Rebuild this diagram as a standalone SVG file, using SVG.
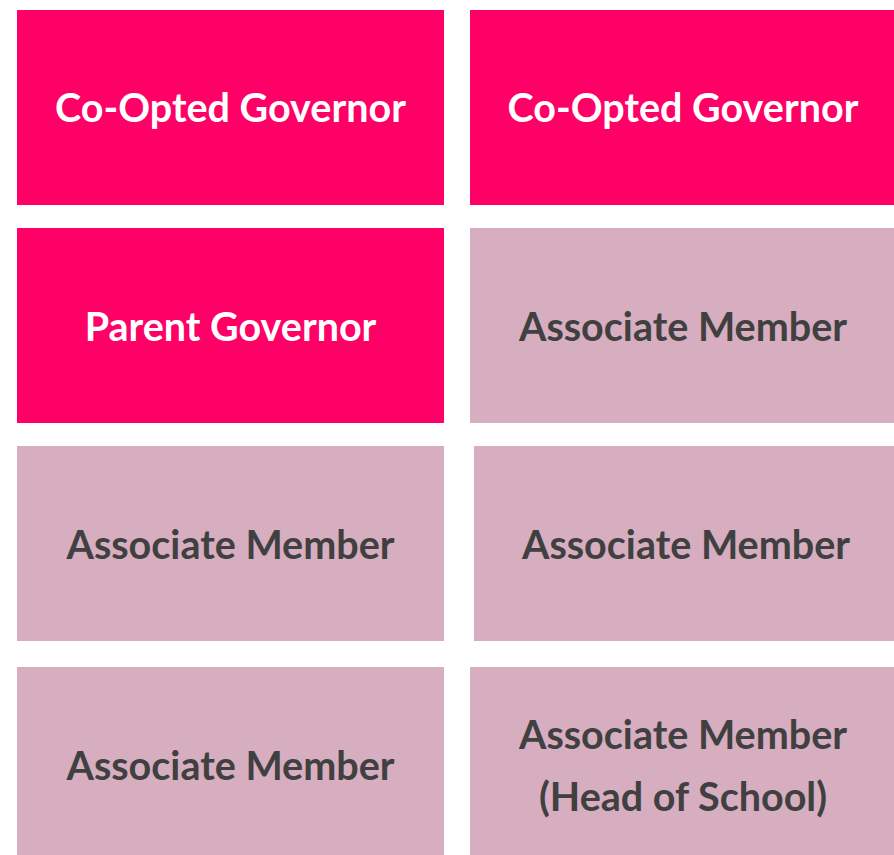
<svg xmlns="http://www.w3.org/2000/svg" width="894" height="855" viewBox="0 0 894 855">
<style>
.hot{fill:#FF0066}
.mauve{fill:#D7ADC0}
text{font-family:Lato,"Open Sans","Liberation Sans",sans-serif;font-weight:bold;font-size:39.5px;text-anchor:middle}
.w{fill:#FFFFFF}
.d{fill:#404040}
</style>
<rect width="894" height="855" fill="#FFFFFF"/>
<g id="node1"><rect class="hot" x="17" y="10" width="427" height="195"/><text class="w" x="230.5" y="122">Co-Opted Governor</text></g>
<g id="node2"><rect class="hot" x="470" y="10" width="424" height="195"/><text class="w" x="683" y="122">Co-Opted Governor</text></g>
<g id="node3"><rect class="hot" x="17" y="228" width="427" height="195"/><text class="w" x="230.5" y="341">Parent Governor</text></g>
<g id="node4"><rect class="mauve" x="470" y="228" width="424" height="195"/><text class="d" x="683" y="341">Associate Member</text></g>
<g id="node5"><rect class="mauve" x="17" y="446" width="427" height="195"/><text class="d" x="230.5" y="559">Associate Member</text></g>
<g id="node6"><rect class="mauve" x="474" y="446" width="420" height="195"/><text class="d" x="686" y="559">Associate Member</text></g>
<g id="node7"><rect class="mauve" x="17" y="667" width="427" height="188"/><text class="d" x="230.5" y="780">Associate Member</text></g>
<g id="node8"><rect class="mauve" x="470" y="667" width="424" height="188"/><text class="d" x="683" y="749">Associate Member</text><text class="d" x="683" y="811">(Head of School)</text></g>
<g id="connectors"/>
</svg>
